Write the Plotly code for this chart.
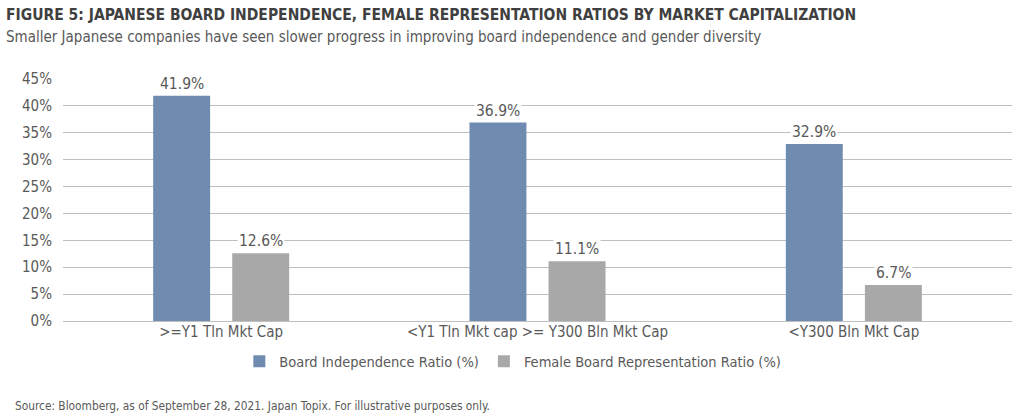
import plotly.graph_objects as go

categories = [">=Y1 Tln Mkt Cap", "<Y1 Tln Mkt cap >= Y300 Bln Mkt Cap", "<Y300 Bln Mkt Cap"]
board_independence = [41.9, 36.9, 32.9]
female_representation = [12.6, 11.1, 6.7]
series_names = ["Board Independence Ratio (%)", "Female Board Representation Ratio (%)"]
tick_values = [0, 5, 10, 15, 20, 25, 30, 35, 40, 45]
tick_labels = ["0%", "5%", "10%", "15%", "20%", "25%", "30%", "35%", "40%", "45%"]

FONT = "DejaVu Sans Condensed, Liberation Sans Narrow, Arial Narrow, sans-serif"
BLUE = "#6F8CB0"
GREY = "#A8A8A8"
TXT = "#595959"

fig = go.Figure()
fig.add_trace(go.Bar(x=categories, y=board_independence, name=series_names[0],
                     marker=dict(color=BLUE, line=dict(width=0))))
fig.add_trace(go.Bar(x=categories, y=female_representation, name=series_names[1],
                     marker=dict(color=GREY, line=dict(width=0))))

annotations = []
slot_half = 39.5
for vals, shift in ((board_independence, -slot_half), (female_representation, slot_half)):
    for c, v in zip(categories, vals):
        annotations.append(dict(x=c, y=v, xref="x", yref="y", text=f"{v:.1f}%",
                                showarrow=False, yanchor="bottom", xshift=shift, yshift=1,
                                bgcolor="white", borderpad=1,
                                font=dict(family=FONT, size=15.5, color=TXT)))

annotations += [
    dict(text="<b>FIGURE 5: JAPANESE BOARD INDEPENDENCE, FEMALE REPRESENTATION RATIOS BY MARKET CAPITALIZATION</b>",
         xref="paper", yref="paper", x=-0.062, y=1.0, xanchor="left", yanchor="bottom",
         yshift=53, showarrow=False, font=dict(family=FONT, size=15.5, color="#3F3F3F")),
    dict(text="Smaller Japanese companies have seen slower progress in improving board independence and gender diversity",
         xref="paper", yref="paper", x=-0.062, y=1.0, xanchor="left", yanchor="bottom",
         yshift=31, showarrow=False, font=dict(family=FONT, size=15, color="#595959")),
    dict(text="Source: Bloomberg, as of September 28, 2021. Japan Topix. For illustrative purposes only.",
         xref="paper", yref="paper", x=-0.053, y=0.0, xanchor="left", yanchor="top",
         yshift=-76, showarrow=False, font=dict(family=FONT, size=11.8, color="#595959")),
]

fig.update_layout(
    width=1024, height=419,
    margin=dict(l=63, r=12, t=79, b=98),
    paper_bgcolor="white", plot_bgcolor="white",
    barmode="group", bargap=0.5, bargroupgap=0.28,
    font=dict(family=FONT, size=15, color=TXT),
    showlegend=True,
    legend=dict(orientation="h", x=0.474, xanchor="center", y=-0.1, yanchor="top",
                font=dict(family=FONT, size=14.5, color=TXT), itemwidth=30,
                traceorder="normal"),
    annotations=annotations,
)
fig.update_xaxes(showgrid=False, showline=False, ticks="", tickfont=dict(size=15, color=TXT))
fig.update_yaxes(range=[0, 45], tickvals=tick_values, ticktext=tick_labels,
                 showgrid=True, gridcolor="#BFBFBF", gridwidth=1, zeroline=True,
                 zerolinecolor="#BFBFBF", zerolinewidth=1, showline=False,
                 ticks="", ticklabelstandoff=10, tickfont=dict(size=15, color=TXT))

fig.write_html("out.html", config={"displayModeBar": False},
               post_script="document.body.style.margin='0';")
